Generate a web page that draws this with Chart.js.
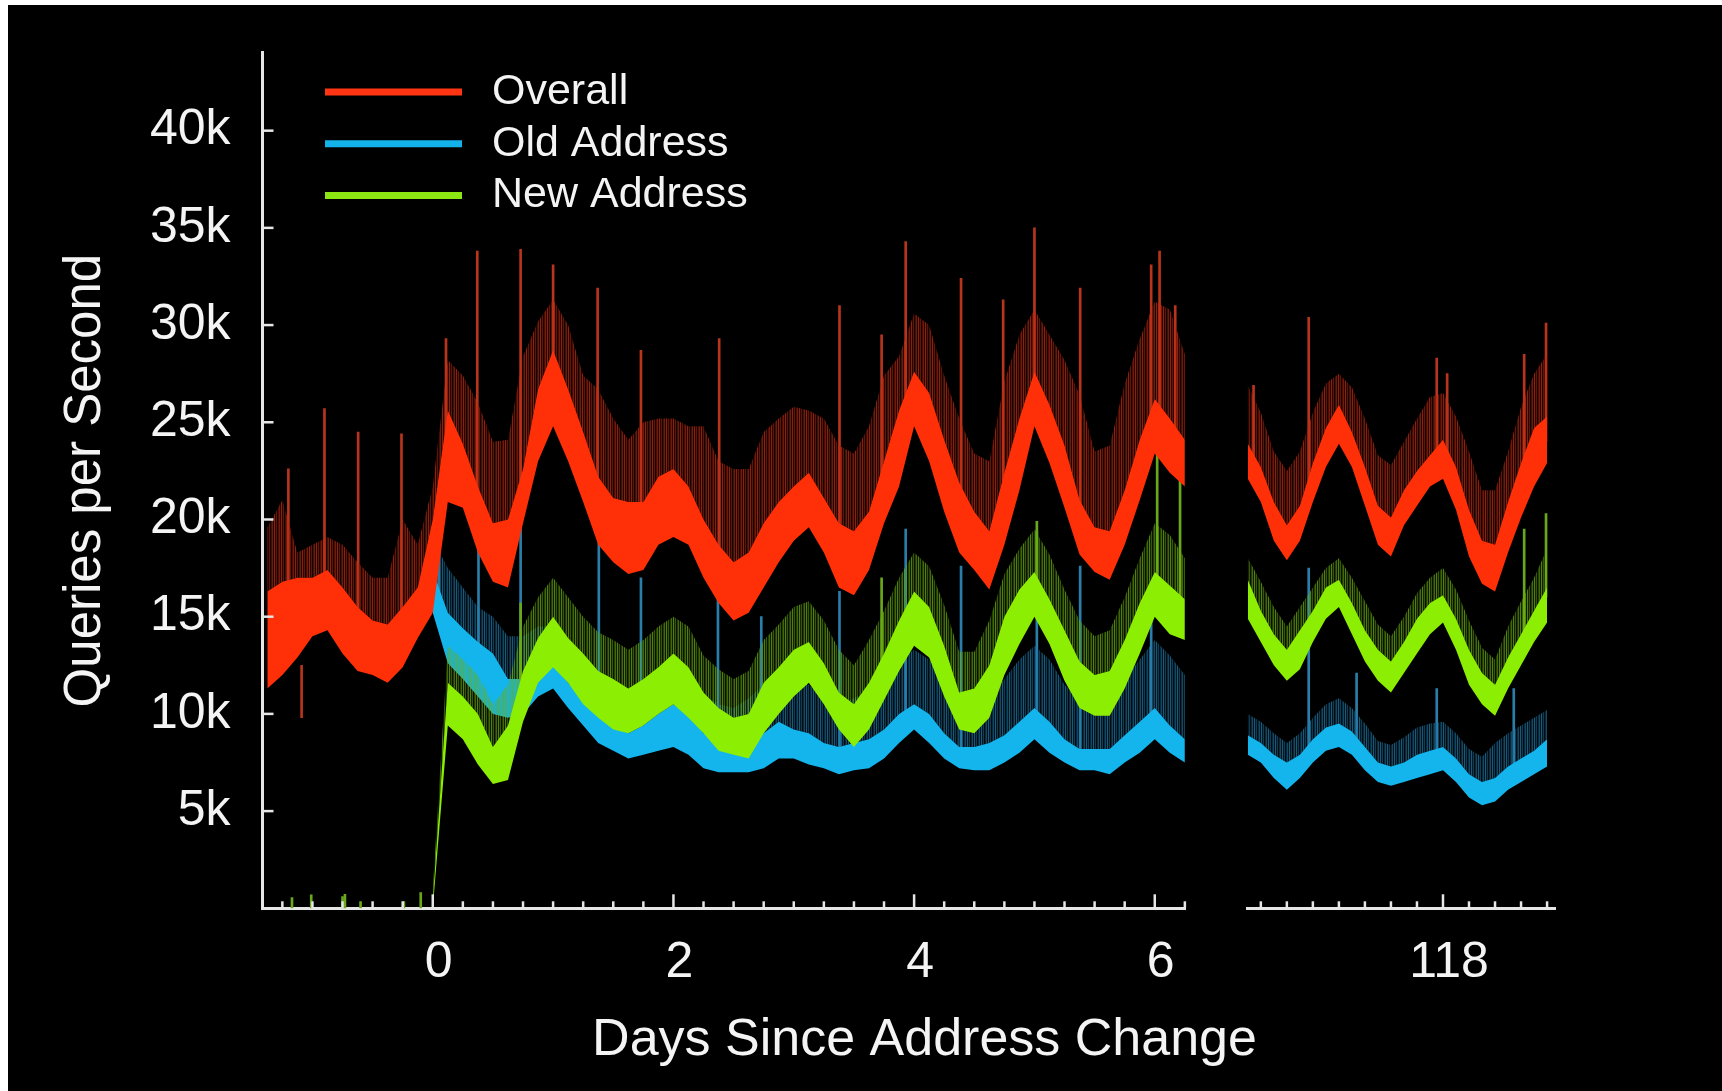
<!DOCTYPE html>
<html lang="en">
<head>
<meta charset="UTF-8">
<title>Queries per Second after the address change</title>
<script src="https://cdn.jsdelivr.net/npm/chart.js"></script>
<style>
    html, body { margin: 0; padding: 0; background: #fff; }
    .frame {
        position: absolute;
        left: 8px;
        top: 5px;
        width: 1714px;
        height: 1086px;
        background: #000;
    }
</style>
</head>
<body>
<div class="frame"><canvas id="qps"></canvas></div>
<script>
// ---- data (queries per second, in thousands) ----
// first stretch: every 3 hours from day -1.375 to day 6.25
const days1 = Array.from({ length: 62 }, (_, i) => -1.375 + i * 0.125);
// later stretch around day 118: every 3 hours from day 116.125 to 119
const days2 = Array.from({ length: 24 }, (_, i) => 116.125 + i * 0.125);

const seriesNames = ["Overall", "Old Address", "New Address"];

// Overall: bottom and top of the dense band, and the top of the spiky fringe
const overallLow1 = [11.3, 12.0, 12.9, 14.0, 14.3, 13.1, 12.2, 12.0, 11.6, 12.4, 13.9,
    15.2, 20.9, 20.6, 18.3, 16.8,
    16.5, 19.8, 23.0, 24.8, 23.0, 20.9, 18.7, 17.8, 17.2, 17.4, 18.7, 19.1, 18.7, 17.0, 15.7, 14.8,
    15.2, 16.5, 17.8, 18.9, 19.6, 18.3, 16.5, 16.1, 17.4, 19.8, 21.7, 24.8, 23.0, 20.4, 18.3, 17.4,
    16.4, 18.7, 21.5, 24.8, 22.9, 20.6, 18.2, 17.3, 16.9, 18.7, 21.0, 23.4, 22.4, 21.7];
const overallHigh1 = [16.3, 16.8, 17.0, 17.0, 17.4, 16.5, 15.5, 14.8, 14.6, 15.5, 16.5,
    20.0, 25.6, 23.9, 21.7, 19.8,
    20.0, 22.6, 26.7, 28.7, 26.7, 24.5, 22.2, 21.1, 20.9, 20.9, 22.2, 22.6, 21.7, 20.0, 18.7, 17.8,
    18.3, 19.8, 20.9, 21.7, 22.4, 21.1, 19.8, 19.4, 20.4, 23.0, 25.6, 27.6, 26.5, 24.1, 21.9, 20.4,
    19.4, 22.4, 25.2, 27.6, 25.9, 23.8, 21.0, 19.6, 19.4, 21.5, 24.1, 26.2, 25.2, 24.1];
const overallTop1 = [19.6, 21.0, 18.3, 18.7, 19.1, 18.7, 17.8, 17.0, 17.0, 20.0, 18.7,
    21.7, 28.2, 27.4, 26.0, 24.0,
    24.1, 28.4, 30.2, 31.3, 30.0, 27.4, 26.7, 25.2, 24.1, 25.0, 25.2, 25.2, 24.8, 24.8, 23.0, 22.6,
    22.6, 24.5, 25.2, 25.8, 25.6, 25.2, 23.8, 23.4, 24.8, 27.4, 28.4, 30.6, 30.0, 27.4, 25.2, 23.4,
    23.0, 27.1, 29.5, 30.8, 29.5, 28.2, 26.4, 23.5, 23.8, 27.0, 29.3, 31.2, 30.8, 28.5];

const oldLow1 = [null, null, null, null, null, null, null, null, null, null, null,
    15.2, 12.6, 11.8, 10.9, 10.0,
    9.8, 10.0, 10.9, 11.3, 10.3, 9.4, 8.5, 8.1, 7.7, 7.9, 8.1, 8.3, 7.9, 7.2, 7.0, 7.0,
    7.0, 7.2, 7.7, 7.7, 7.4, 7.2, 6.9, 7.1, 7.2, 7.7, 8.5, 9.2, 8.5, 7.7, 7.2, 7.1,
    7.1, 7.5, 8.0, 8.7, 8.0, 7.5, 7.1, 7.1, 6.9, 7.5, 8.0, 8.7, 8.0, 7.5];
const oldHigh1 = [null, null, null, null, null, null, null, null, null, null, null,
    17.4, 15.2, 14.4, 13.7, 13.1,
    11.8, 11.8, 12.2, 12.6, 11.6, 10.9, 10.0, 9.4, 9.0, 9.4, 10.0, 10.5, 10.0, 9.0, 8.5, 8.3,
    8.7, 9.0, 9.6, 9.2, 9.0, 8.5, 8.3, 8.5, 8.7, 9.2, 10.0, 10.5, 10.0, 9.0, 8.3, 8.3,
    8.5, 8.9, 9.6, 10.3, 9.6, 8.7, 8.2, 8.2, 8.2, 8.9, 9.6, 10.3, 9.4, 8.7];
const oldTop1 = [null, null, null, null, null, null, null, null, null, null, null,
    19.0, 17.5, 16.5, 15.5, 15.0,
    14.0, 14.0, 14.5, 14.5, 13.5, 12.8, 12.0, 11.5, 11.0, 11.5, 12.0, 12.5, 12.0, 11.0, 10.5, 10.3,
    10.8, 11.5, 12.0, 11.8, 11.5, 10.8, 10.5, 10.8, 11.2, 12.0, 12.8, 13.3, 12.8, 11.8, 10.8, 10.5,
    10.8, 11.8, 12.8, 13.5, 12.8, 11.5, 10.8, 10.5, 10.8, 11.8, 12.8, 13.8, 13.0, 12.0];

const newLow1 = [null, null, null, null, null, null, null, null, null, null, null,
    0.0, 9.4, 8.7, 7.4, 6.4,
    6.6, 9.6, 11.6, 12.4, 11.6, 10.5, 9.8, 9.2, 9.0, 9.4, 10.0, 10.5, 9.8, 9.0, 8.1, 7.9,
    7.7, 9.0, 10.0, 10.9, 11.6, 10.5, 9.2, 8.3, 9.2, 10.7, 12.2, 13.5, 12.9, 10.9, 9.2, 9.0,
    9.8, 12.0, 13.6, 15.0, 13.6, 11.7, 10.3, 9.9, 9.9, 11.3, 13.1, 15.0, 14.1, 13.8];
const newHigh1 = [null, null, null, null, null, null, null, null, null, null, null,
    0.4, 11.6, 10.9, 10.0, 8.3,
    9.4, 12.2, 13.9, 15.0, 13.9, 13.1, 12.2, 11.8, 11.3, 11.8, 12.4, 13.1, 12.4, 11.1, 10.3, 9.8,
    10.0, 11.6, 12.4, 13.3, 13.7, 12.6, 11.1, 10.5, 11.6, 13.1, 14.8, 16.3, 15.5, 13.5, 11.1, 11.3,
    12.5, 15.0, 16.4, 17.3, 15.9, 14.3, 12.7, 12.0, 12.2, 13.8, 15.7, 17.3, 16.6, 15.9];
const newTop1 = [null, null, null, null, null, null, null, null, null, null, null,
    1.0, 13.5, 12.8, 12.0, 10.5,
    11.5, 14.5, 16.0, 17.0, 16.0, 15.0, 14.2, 13.8, 13.3, 13.8, 14.5, 15.0, 14.5, 13.0, 12.3, 11.8,
    12.2, 13.8, 14.6, 15.5, 15.8, 14.8, 13.3, 12.5, 13.8, 15.3, 17.0, 18.3, 17.6, 15.6, 13.2, 13.2,
    14.8, 17.2, 18.5, 19.5, 18.2, 16.4, 14.8, 14.0, 14.3, 16.0, 18.0, 19.8, 19.2, 18.0];

const overallLow2 = [22.1, 20.9, 18.9, 17.9, 18.9, 20.9, 22.7, 23.9, 22.7, 20.7, 18.7, 18.1,
    19.7, 20.7, 21.7, 22.1, 20.5, 18.1, 16.7, 16.3, 18.3, 20.1, 21.7, 22.9];
const overallHigh2 = [23.9, 22.7, 20.9, 19.7, 20.7, 22.9, 24.7, 25.9, 24.5, 22.7, 20.7, 20.1,
    21.5, 22.5, 23.3, 24.1, 22.7, 20.5, 18.9, 18.7, 20.9, 22.9, 24.7, 25.3];
const overallTop2 = [26.9, 25.5, 23.5, 22.5, 23.5, 25.5, 27.0, 27.5, 26.8, 25.2, 23.3, 22.8,
    24.0, 25.2, 26.3, 26.5, 25.3, 23.5, 21.5, 21.5, 23.5, 25.8, 27.5, 28.5];
const oldLow2 = [7.9, 7.5, 6.7, 6.1, 6.7, 7.5, 8.1, 8.3, 7.9, 7.1, 6.5, 6.3,
    6.5, 6.7, 6.9, 7.1, 6.5, 5.7, 5.3, 5.5, 6.1, 6.5, 6.9, 7.3];
const oldHigh2 = [8.9, 8.5, 7.9, 7.5, 7.9, 8.7, 9.3, 9.5, 9.1, 8.3, 7.5, 7.3,
    7.5, 7.9, 8.1, 8.3, 7.7, 6.9, 6.5, 6.7, 7.3, 7.7, 8.1, 8.7];
const oldTop2 = [10.0, 9.6, 9.0, 8.5, 9.0, 9.8, 10.5, 10.8, 10.3, 9.5, 8.6, 8.4,
    8.8, 9.3, 9.5, 9.6, 9.0, 8.2, 7.8, 8.5, 9.0, 9.4, 9.8, 10.2];
const newLow2 = [14.9, 13.7, 12.5, 11.7, 12.3, 13.7, 14.9, 15.5, 14.1, 12.7, 11.7, 11.1,
    12.1, 13.1, 14.1, 14.7, 13.3, 11.5, 10.5, 9.9, 11.3, 12.5, 13.7, 14.7];
const newHigh2 = [16.9, 15.3, 14.1, 13.3, 14.3, 15.3, 16.5, 16.9, 15.7, 14.3, 13.3, 12.7,
    13.7, 14.9, 15.7, 16.1, 14.9, 13.3, 12.1, 11.5, 12.9, 14.1, 15.3, 16.5];
const newTop2 = [18.0, 16.8, 15.5, 14.5, 15.5, 16.5, 17.5, 18.0, 17.0, 15.8, 14.6, 14.0,
    15.0, 16.2, 17.0, 17.5, 16.4, 14.8, 13.4, 12.8, 14.5, 15.8, 17.0, 18.5];

// isolated spikes: [day, from, to]
const overallSpikes1 = [[-1.20, 16.0, 22.6], [-1.09, 9.8, 12.5], [-0.90, 17.0, 25.7], [-0.62, 15.0, 24.5],
    [-0.26, 15.0, 24.4], [0.11, 24.0, 29.3], [0.37, 21.0, 33.8], [0.73, 22.0, 33.9], [1.00, 28.0, 33.1],
    [1.37, 22.0, 31.9], [1.73, 20.0, 28.7], [2.38, 18.0, 29.3], [3.38, 19.0, 31.0], [3.73, 22.0, 29.5],
    [3.93, 26.0, 34.3], [4.39, 21.0, 32.4], [4.74, 22.0, 31.3], [5.00, 27.0, 35.0], [5.38, 20.0, 31.9],
    [5.97, 25.0, 33.1], [6.04, 25.0, 33.8], [6.17, 24.0, 31.0]];
const oldSpikes1 = [[0.05, 16.0, 20.3], [0.38, 13.0, 20.2], [0.73, 11.0, 19.5], [1.38, 9.0, 18.9],
    [1.73, 8.5, 17.0], [2.37, 8.0, 15.9], [2.73, 8.5, 15.0], [3.38, 8.0, 16.3], [3.93, 9.5, 19.5],
    [4.39, 8.0, 17.6], [5.02, 9.5, 19.4], [5.38, 8.0, 17.6], [5.97, 9.5, 15.9]];
const newSpikes1 = [[-1.17, 0, 0.55], [-1.01, 0, 0.69], [-0.75, 0, 0.6], [-0.73, 0, 0.72], [-0.60, 0, 0.34],
    [-0.24, 0, 0.34], [-0.10, 0, 0.81], [0.73, 11.0, 15.7], [3.73, 11.0, 17.0], [5.02, 16.0, 19.9],
    [6.02, 15.0, 23.8], [6.21, 15.0, 22.0]];
const overallSpikes2 = [[116.18, 22.0, 26.9], [116.71, 22.0, 30.4], [117.94, 22.0, 28.3], [118.04, 22.0, 27.5],
    [118.78, 21.0, 28.5], [118.99, 24.0, 30.1]];
const oldSpikes2 = [[116.71, 8.0, 17.5], [117.17, 8.0, 12.1], [117.94, 7.5, 11.3], [118.68, 7.0, 11.3]];
const newSpikes2 = [[118.78, 14.0, 19.5], [118.99, 16.0, 20.3]];

// axis ticks
const yTicks = [5, 10, 15, 20, 25, 30, 35, 40];
const dayTicks1 = [-1.25, -1, -0.75, -0.5, -0.25, 0, 0.25, 0.5, 0.75, 1, 1.25, 1.5, 1.75, 2, 2.25, 2.5,
    2.75, 3, 3.25, 3.5, 3.75, 4, 4.25, 4.5, 4.75, 5, 5.25, 5.5, 5.75, 6, 6.25];
const dayTicks2 = [116.25, 116.5, 116.75, 117, 117.25, 117.5, 117.75, 118, 118.25, 118.5, 118.75, 119];
const dayLabels = [0, 2, 4, 6, 118];

// ---- styling ----
const axisColor = "#e6e6e6";
const textColor = "#f4f4f4";
const fontFamily = "'Liberation Sans', Arial, Helvetica, sans-serif";
const legendColors = ["#ff3412", "#14b2ea", "#8ce612"];

const ctx = document.getElementById("qps").getContext("2d");

// uneven vertical hair-lines for the spiky fringe above each band
function stripes(color) {
    const alphas = [0.75, 0.2, 0.5, 0.1, 0.35, 0.6, 0.15];
    const c = document.createElement("canvas");
    c.width = alphas.length;
    c.height = 2;
    const g = c.getContext("2d");
    g.fillStyle = color;
    alphas.forEach((a, i) => {
        g.globalAlpha = a;
        g.fillRect(i, 0, 1, 2);
    });
    return ctx.createPattern(c, "repeat");
}

const looks = {
    overall: { core: "#ff3008", fringe: stripes("#c02a10"), spike: "#b8341c", order: 1 },
    newer: { core: "#8cee02", fringe: stripes("#6aae0c"), spike: "#6aa81a", order: 2 },
    older: { core: "#14b4ec", fringe: stripes("#1e78a8"), spike: "#2a7eaa", order: 3 }
};

const datasets = [];
function toPoints(days, vals) {
    return vals.map((v, i) => ({ x: days[i], y: v }));
}
function addBand(name, days, low, high, top, axis, look) {
    const base = datasets.length;
    const line = { borderWidth: 0, borderColor: "transparent", pointRadius: 0, xAxisID: axis, order: look.order };
    datasets.push({ ...line, label: name + " low", data: toPoints(days, low), fill: false });
    datasets.push({ ...line, label: name, data: toPoints(days, high), fill: { target: base }, backgroundColor: look.core });
    datasets.push({ ...line, label: name + " fringe", data: toPoints(days, top), fill: { target: base + 1 }, backgroundColor: look.fringe });
}
function addSpikes(name, spikes, axis, look) {
    datasets.push({
        type: "bar",
        label: name + " spikes",
        data: spikes.map(s => ({ x: s[0], y: [s[1], s[2]] })),
        xAxisID: axis,
        backgroundColor: look.spike,
        barThickness: 2,
        grouped: false,
        order: look.order
    });
}

addBand(seriesNames[0], days1, overallLow1, overallHigh1, overallTop1, "x", looks.overall);
addBand(seriesNames[0], days2, overallLow2, overallHigh2, overallTop2, "x2", looks.overall);
addSpikes(seriesNames[0], overallSpikes1, "x", looks.overall);
addSpikes(seriesNames[0], overallSpikes2, "x2", looks.overall);
addBand(seriesNames[2], days1, newLow1, newHigh1, newTop1, "x", looks.newer);
addBand(seriesNames[2], days2, newLow2, newHigh2, newTop2, "x2", looks.newer);
addSpikes(seriesNames[2], newSpikes1, "x", looks.newer);
addSpikes(seriesNames[2], newSpikes2, "x2", looks.newer);
addBand(seriesNames[1], days1, oldLow1, oldHigh1, oldTop1, "x", looks.older);
addBand(seriesNames[1], days2, oldLow2, oldHigh2, oldTop2, "x2", looks.older);
addSpikes(seriesNames[1], oldSpikes1, "x", looks.older);
addSpikes(seriesNames[1], oldSpikes2, "x2", looks.older);

// x axis pieces sit side by side in one stack, with a blank piece for the break
function dayAxis(min, max, ticks, weight) {
    return {
        type: "linear",
        position: "bottom",
        stack: "days",
        stackWeight: weight,
        min: min,
        max: max,
        bounds: "data",
        offset: false,
        grid: { display: false, drawTicks: false },
        border: { display: true, color: axisColor, width: 3 },
        afterBuildTicks: scale => { scale.ticks = ticks.map(v => ({ value: v })); },
        afterFit: scale => {
            scale.height = 182.7;
            scale.paddingLeft = 0;
            scale.paddingRight = 0;
        },
        ticks: {
            autoSkip: false,
            maxRotation: 0,
            minRotation: 0,
            padding: 25,
            labelOffset: 6,
            color: textColor,
            font: { size: 50 },
            callback: v => (dayLabels.includes(v) ? String(v) : "")
        }
    };
}

// inward tick marks, legend and the x title
const decorations = {
    id: "decorations",
    afterDatasetsDraw(chart) {
        const c = chart.ctx;
        c.save();
        c.strokeStyle = axisColor;
        c.lineWidth = 2.5;
        ["x", "x2"].forEach(id => {
            const s = chart.scales[id];
            s.ticks.forEach(t => {
                const px = s.getPixelForValue(t.value);
                const len = dayLabels.includes(t.value) ? 14 : 7;
                c.beginPath();
                c.moveTo(px, s.top);
                c.lineTo(px, s.top - len);
                c.stroke();
            });
        });
        const ys = chart.scales.y;
        ys.ticks.forEach(t => {
            const py = ys.getPixelForValue(t.value);
            c.beginPath();
            c.moveTo(ys.right, py);
            c.lineTo(ys.right + 11, py);
            c.stroke();
        });
        c.restore();
    },
    afterDraw(chart) {
        const c = chart.ctx;
        c.save();
        c.font = "43px " + fontFamily;
        c.textBaseline = "middle";
        c.textAlign = "left";
        seriesNames.forEach((name, i) => {
            const y = 87 + i * 51.7;
            c.strokeStyle = legendColors[i];
            c.lineWidth = 7;
            c.beginPath();
            c.moveTo(317, y);
            c.lineTo(454, y);
            c.stroke();
            c.fillStyle = textColor;
            c.fillText(name, 484, y);
        });
        c.font = "52px " + fontFamily;
        c.textAlign = "center";
        c.textBaseline = "alphabetic";
        c.fillText("Days Since Address Change", 916.5, 1050);
        c.restore();
    }
};

Chart.defaults.font.family = fontFamily;

new Chart(ctx, {
    type: "line",
    data: { datasets: datasets },
    options: {
        responsive: true,
        maintainAspectRatio: false,
        animation: false,
        events: [],
        layout: { padding: { top: 47.9, right: 166.6, bottom: 0, left: 0 } },
        elements: { line: { tension: 0 } },
        plugins: {
            legend: { display: false },
            tooltip: { enabled: false }
        },
        scales: {
            x: dayAxis(-1.415, 6.257, dayTicks1, 923.2),
            xGap: {
                type: "linear",
                position: "bottom",
                stack: "days",
                stackWeight: 61.6,
                min: 0,
                max: 1,
                grid: { display: false, drawTicks: false },
                border: { display: false },
                ticks: { display: false },
                afterFit: scale => { scale.height = 182.7; }
            },
            x2: dayAxis(116.12, 119.08, dayTicks2, 308.1),
            y: {
                type: "linear",
                position: "left",
                min: 0,
                max: 44,
                bounds: "data",
                grid: { display: false, drawTicks: false },
                border: { display: true, color: axisColor, width: 3 },
                afterBuildTicks: scale => { scale.ticks = yTicks.map(v => ({ value: v })); },
                afterFit: scale => {
                    scale.width = 254.5;
                    scale.paddingTop = 0;
                    scale.paddingBottom = 0;
                },
                ticks: {
                    padding: 32,
                    color: textColor,
                    font: { size: 50 },
                    callback: v => v + "k"
                },
                title: {
                    display: true,
                    text: "Queries per Second",
                    color: textColor,
                    font: { size: 51 },
                    padding: { top: 47, bottom: 0 }
                }
            }
        }
    },
    plugins: [decorations]
});
</script>
</body>
</html>
